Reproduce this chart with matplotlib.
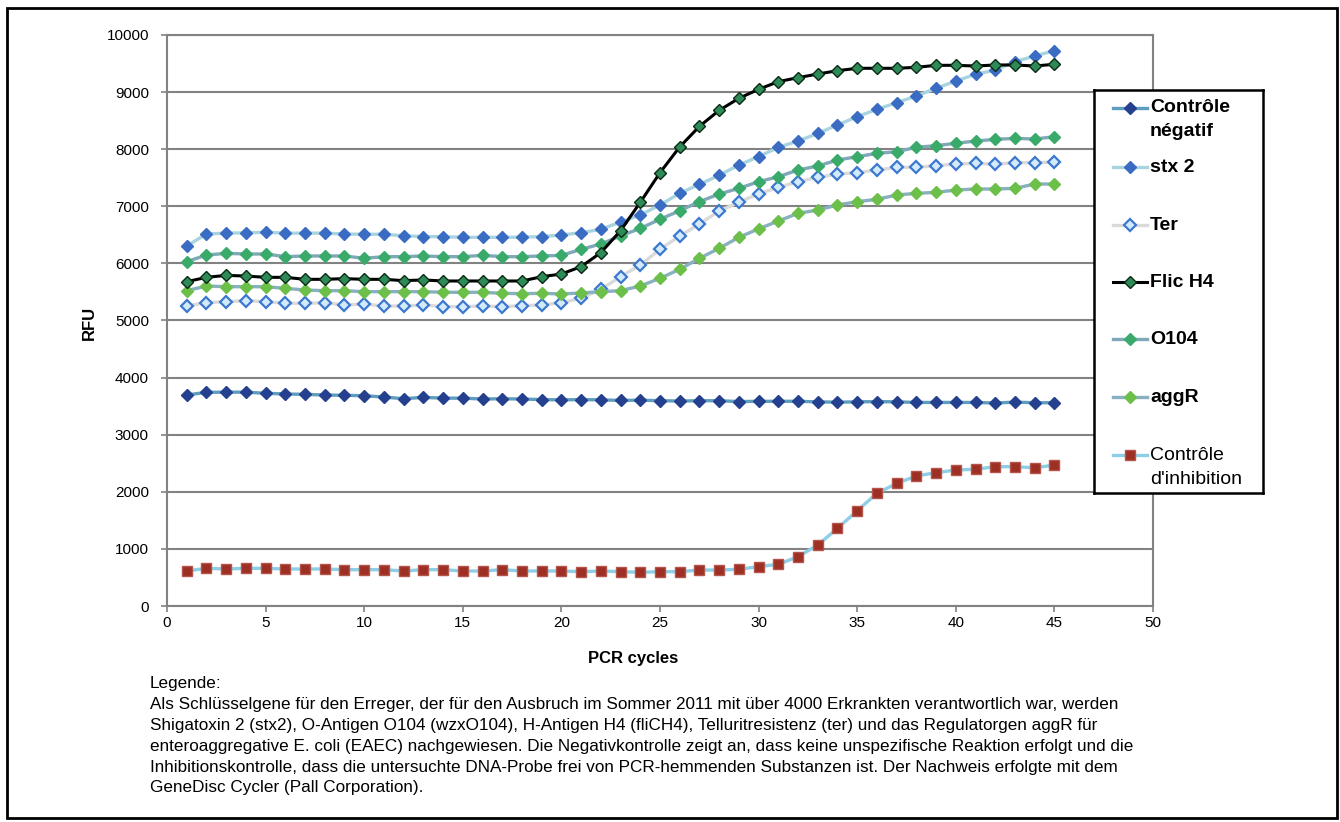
import matplotlib
matplotlib.use("Agg")
import matplotlib.pyplot as plt
from matplotlib.patches import Rectangle
from matplotlib.lines import Line2D

plt.rcParams['font.family'] = ['Liberation Sans', 'DejaVu Sans']

cycles = list(range(1, 46))

neg = [3695, 3742, 3745, 3745, 3725, 3713, 3707, 3695, 3690, 3683, 3660, 3630, 3654, 3640, 3640,
       3625, 3630, 3625, 3615, 3610, 3615, 3610, 3600, 3605, 3595, 3590, 3595, 3595, 3580, 3585,
       3585, 3585, 3575, 3570, 3575, 3580, 3575, 3565, 3565, 3565, 3565, 3555, 3570, 3560, 3560]
stx2 = [6305, 6515, 6530, 6535, 6545, 6530, 6530, 6530, 6515, 6510, 6510, 6485, 6470, 6468, 6457,
        6457, 6457, 6460, 6470, 6497, 6538, 6597, 6725, 6848, 7023, 7227, 7385, 7542, 7723, 7869,
        8033, 8143, 8277, 8424, 8570, 8698, 8815, 8932, 9066, 9194, 9311, 9387, 9533, 9632, 9725]
ter = [5254, 5312, 5330, 5347, 5330, 5300, 5300, 5312, 5271, 5289, 5254, 5254, 5271, 5243, 5243,
       5254, 5243, 5260, 5271, 5312, 5388, 5545, 5767, 5972, 6246, 6480, 6690, 6918, 7070, 7220,
       7332, 7431, 7507, 7566, 7589, 7636, 7682, 7682, 7711, 7741, 7752, 7735, 7764, 7764, 7776]
flic = [5680, 5756, 5790, 5779, 5756, 5756, 5721, 5721, 5733, 5721, 5721, 5698, 5710, 5692, 5692,
        5692, 5692, 5692, 5767, 5814, 5943, 6188, 6573, 7070, 7589, 8040, 8400, 8680, 8891, 9049,
        9183, 9253, 9317, 9375, 9417, 9417, 9417, 9434, 9469, 9469, 9457, 9475, 9475, 9457, 9487]
o104 = [6030, 6147, 6176, 6165, 6165, 6118, 6130, 6130, 6130, 6089, 6118, 6118, 6130, 6118, 6118,
        6141, 6118, 6118, 6130, 6141, 6246, 6340, 6480, 6614, 6772, 6923, 7081, 7215, 7314, 7431,
        7518, 7636, 7706, 7811, 7869, 7927, 7956, 8033, 8062, 8103, 8143, 8172, 8190, 8178, 8219]
aggr = [5522, 5604, 5592, 5592, 5592, 5563, 5534, 5522, 5522, 5505, 5505, 5505, 5505, 5494, 5494,
        5494, 5476, 5470, 5476, 5464, 5482, 5505, 5522, 5604, 5739, 5897, 6089, 6264, 6457, 6605,
        6742, 6877, 6935, 7023, 7081, 7122, 7198, 7227, 7244, 7285, 7303, 7303, 7314, 7390, 7390]
inhib = [613, 660, 648, 660, 660, 648, 648, 648, 636, 636, 636, 613, 636, 636, 613,
         613, 636, 613, 613, 613, 601, 613, 601, 590, 601, 601, 630, 630, 642, 689,
         730, 864, 1068, 1360, 1669, 1973, 2148, 2277, 2335, 2382, 2394, 2440, 2440, 2420, 2469]

labels = ["Contrôle\nnégatif", "stx 2", "Ter", "Flic H4", "O104", "aggR", "Contrôle\nd'inhibition"]
series = [neg, stx2, ter, flic, o104, aggr, inhib]

styles = [
    dict(color='#5E9DC0', lw=2.4, marker='D', ms=6.5, mfc='#24408E', mec='#24408E', mew=1.0),
    dict(color='#A8D4E0', lw=2.4, marker='D', ms=6.5, mfc='#3A6CC4', mec='#3A6CC4', mew=1.0),
    dict(color='#DADADA', lw=2.4, marker='D', ms=6.5, mfc='#D2EAFA', mec='#3C78D0', mew=1.6),
    dict(color='#000000', lw=2.2, marker='D', ms=6.0, mfc='#2E8B57', mec='#0A2A14', mew=1.0),
    dict(color='#7FA8B8', lw=2.4, marker='D', ms=6.5, mfc='#3AAA6A', mec='#3AAA6A', mew=1.0),
    dict(color='#88B0C0', lw=2.4, marker='D', ms=6.5, mfc='#6CC04A', mec='#6CC04A', mew=1.0),
    dict(color='#8ECFE8', lw=2.4, marker='s', ms=7.5, mfc='#9E2F24', mec='#B4554C', mew=1.0),
]
bold = [True, True, True, True, True, True, False]

W, H = 1340, 822
fig = plt.figure(figsize=(W / 100, H / 100), dpi=100)

# outer frame
fig.add_artist(Rectangle((7 / W, 4 / H), (1337 - 7) / W, (818 - 8) / H, transform=fig.transFigure,
                         fill=False, ec='black', lw=2.0))

ax = fig.add_axes([167 / W, (H - 606) / H, (1153 - 167) / W, (606 - 35) / H])
grid_c = '#828282'
for i, (ys, st) in enumerate(zip(series, styles)):
    ax.plot(cycles, ys, zorder=3 + (1 if i == 3 else 0), **st)

ax.set_xlim(0, 50)
ax.set_ylim(0, 10000)
ax.set_xticks(range(0, 51, 5))
ax.set_yticks(range(0, 10001, 1000))
ax.yaxis.grid(True, color=grid_c, lw=1.5)
ax.set_axisbelow(True)
for s in ['left', 'bottom', 'right', 'top']:
    ax.spines[s].set_color(grid_c)
    ax.spines[s].set_linewidth(1.5)
ax.tick_params(axis='both', colors=grid_c, length=4, width=1.2, labelsize=11, labelcolor='black')
ax.tick_params(axis='y', pad=9)
ax.tick_params(axis='x', pad=3)
ax.set_xlabel("PCR cycles", fontsize=12, fontweight='bold')
ax.xaxis.set_label_coords(0.473, -0.078)
ax.set_ylabel("RFU", fontsize=12, fontweight='bold')
ax.yaxis.set_label_coords(-0.071, 0.495)

# legend box (manual, pixel-based coordinates)
lx0, ly0, lx1, ly1 = 1094, 90, 1263, 493
lax = fig.add_axes([lx0 / W, (H - ly1) / H, (lx1 - lx0) / W, (ly1 - ly0) / H])
lax.set_xlim(0, lx1 - lx0)
lax.set_ylim(ly1 - ly0, 0)
lax.set_xticks([])
lax.set_yticks([])
for s in lax.spines.values():
    s.set_color('black')
    s.set_linewidth(1.8)
hy = [18, 77, 135, 192, 249, 307, 365]
for lab, st, y, b in zip(labels, styles, hy, bold):
    lax.add_line(Line2D([19, 53], [y, y], color=st['color'], lw=st['lw']))
    lax.add_line(Line2D([36], [y], marker=st['marker'], ms=st['ms'], mfc=st['mfc'],
                        mec=st['mec'], mew=st['mew'], ls='none'))
    for k, line in enumerate(lab.split("\n")):
        lax.text(56, y + k * 24, line, fontsize=14, fontweight='bold' if b else 'normal',
                 va='center', ha='left')

caption = ("Legende:\n"
           "Als Schlüsselgene für den Erreger, der für den Ausbruch im Sommer 2011 mit über 4000 Erkrankten verantwortlich war, werden\n"
           "Shigatoxin 2 (stx2), O-Antigen O104 (wzxO104), H-Antigen H4 (fliCH4), Telluritresistenz (ter) und das Regulatorgen aggR für\n"
           "enteroaggregative E. coli (EAEC) nachgewiesen. Die Negativkontrolle zeigt an, dass keine unspezifische Reaktion erfolgt und die\n"
           "Inhibitionskontrolle, dass die untersuchte DNA-Probe frei von PCR-hemmenden Substanzen ist. Der Nachweis erfolgte mit dem\n"
           "GeneDisc Cycler (Pall Corporation).")
fig.text(150 / W, (H - 676) / H, caption, fontsize=12.3, linespacing=1.49, va='top', ha='left')

fig.savefig("out.png", dpi=100)
